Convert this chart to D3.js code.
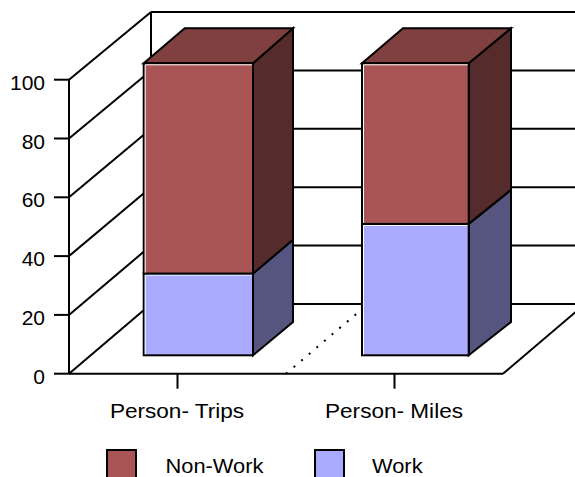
<!DOCTYPE html>
<html>
<head>
<meta charset="utf-8">
<script src="https://cdn.jsdelivr.net/npm/d3@7"></script>
<style>
  html, body { margin: 0; padding: 0; background: #fff; overflow: hidden; }
  text { font-family: "Liberation Sans", Arial, sans-serif; fill: #000; }
</style>
</head>
<body>
<div id="chart"></div>
<script>
// values
const categories = ["Person- Trips", "Person- Miles"];
const work = [28, 45];
const nonWork = [72, 55];
const yTicks = [0, 20, 40, 60, 80, 100];
const seriesNames = ["Work", "Non-Work"];
const legendNames = ["Non-Work", "Work"];

const width = 575, height = 477;

const colors = {
  "Non-Work": { front: "#aa5555", top: "#804040", side: "#552b2b" },
  "Work": { front: "#aaaaff", top: "#8080bf", side: "#555580" }
};

const svg = d3.select("#chart")
  .append("svg")
  .attr("width", width)
  .attr("height", height)
  .style("display", "block");

// front plane of the box
const x = d3.scaleBand().domain(categories).range([69, 503]);
const y = d3.scaleLinear().domain([0, 100]).range([373.7, 79.7]);
// back wall of the box
const xWall = d3.scaleBand().domain(categories).range([151, 585]);
const yWall = d3.scaleLinear().domain([0, 100]).range([304, 12]);
// bar front faces and back edges
const barLeft = d3.scalePoint().domain(categories).range([143.7, 362]);
const barRight = d3.scalePoint().domain(categories).range([253, 468.7]);
const barBackRight = d3.scalePoint().domain(categories).range([293, 511]);
const barInset = 41;
const yBar = d3.scaleLinear().domain([0, 100]).range([355.3, 63.3]);
const yBarBack = d3.scaleLinear().domain([0, 100]).range([322, 28.3]);

const poly = pts => "M" + pts.map(p => p.join(",")).join("L") + "Z";
const line = d3.line();

// stretch a text to the wider lettering of the picture
function stretch(sel, k) {
  sel.each(function () {
    d3.select(this)
      .attr("textLength", this.getComputedTextLength() * k)
      .attr("lengthAdjust", "spacingAndGlyphs");
  });
}

// back wall, left wall and floor
const walls = svg.append("g")
  .attr("fill", "none")
  .attr("stroke", "#000")
  .attr("stroke-width", 2);

yTicks.forEach(t => {
  walls.append("path").attr("d", line([[x.range()[0], y(t)], [xWall.range()[0], yWall(t)]]));
  walls.append("path").attr("d", line([[xWall.range()[0], yWall(t)], [xWall.range()[1], yWall(t)]]));
});
walls.append("path").attr("d", line([[xWall.range()[0], yWall(0)], [xWall.range()[0], yWall(100)]]));
walls.append("path").attr("d", line([[x.range()[1], y(0)], [xWall.range()[1], yWall(0)]]));

// dotted floor divider between the categories
walls.append("path")
  .attr("d", line([[x(categories[1]), y(0)], [xWall(categories[1]), yWall(0)]]))
  .attr("stroke-dasharray", "2,8");

// axes
const yAxis = svg.append("g")
  .attr("transform", "translate(" + x.range()[0] + ",0)")
  .call(d3.axisLeft(y).tickValues(yTicks).tickSize(15).tickPadding(9).tickSizeOuter(0).offset(0));
const xAxis = svg.append("g")
  .attr("transform", "translate(0," + y(0) + ")")
  .call(d3.axisBottom(x).tickSize(15).tickPadding(14).tickSizeOuter(0).offset(0));
[yAxis, xAxis].forEach(a => {
  a.selectAll("line, path").attr("stroke", "#000").attr("stroke-width", 2);
  a.selectAll("text").style("font-size", "21px");
});
yAxis.selectAll("text").attr("y", 3.3);
xAxis.selectAll("text").attr("dx", -0.5);
stretch(xAxis.selectAll("text"), 1.075);

// bars
const stacked = d3.stack().keys(seriesNames)(
  categories.map((c, i) => ({ cat: c, "Work": work[i], "Non-Work": nonWork[i] }))
);

const barsG = svg.append("g");
stacked.forEach(s => {
  const col = colors[s.key];
  s.forEach(d => {
    const c = d.data.cat;
    const x0 = barLeft(c), x1 = barRight(c), xb = barBackRight(c);
    const g = barsG.append("g").attr("stroke", "#000").attr("stroke-width", 2);
    g.append("path").attr("fill", col.side)
      .attr("d", poly([[x1, yBar(d[0])], [xb, yBarBack(d[0])], [xb, yBarBack(d[1])], [x1, yBar(d[1])]]));
    if (d[1] === 100) {
      g.append("path").attr("fill", col.top)
        .attr("d", poly([[x0, yBar(d[1])], [x0 + barInset, yBarBack(d[1])], [xb, yBarBack(d[1])], [x1, yBar(d[1])]]));
    }
    g.append("rect")
      .attr("x", x0).attr("y", yBar(d[1]))
      .attr("width", x1 - x0).attr("height", yBar(d[0]) - yBar(d[1]))
      .attr("fill", col.front);
    // white highlight along the top and left inside the outline
    g.append("path")
      .attr("fill", "none").attr("stroke", "#fff").attr("stroke-width", 1)
      .attr("d", line([[x0 + 1.5, yBar(d[0]) - 1], [x0 + 1.5, yBar(d[1]) + 1.5], [x1 - 1, yBar(d[1]) + 1.5]]));
  });
});

// legend
const legendX = d3.scalePoint().domain(legendNames).range([107, 315]);
const legendTextX = d3.scalePoint().domain(legendNames).range([165.5, 372]);
const legend = svg.append("g").selectAll("g")
  .data(legendNames)
  .enter().append("g")
  .attr("transform", "translate(0,450)");
legend.append("rect")
  .attr("x", d => legendX(d))
  .attr("width", 29)
  .attr("height", 30)
  .attr("fill", d => colors[d].front)
  .attr("stroke", "#000")
  .attr("stroke-width", 2);
legend.append("text")
  .attr("x", d => legendTextX(d))
  .attr("y", 23)
  .style("font-size", "21px")
  .text(d => d)
  .call(stretch, 1.04);
</script>
</body>
</html>
